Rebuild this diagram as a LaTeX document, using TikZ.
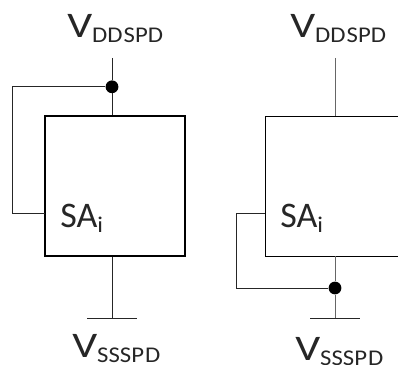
\documentclass[tikz,border=0pt]{standalone}
\usepackage{fontspec}
\setmainfont{Carlito}
\newfontfamily\widefont[FakeStretch=1.22]{Carlito}
\newfontfamily\subfont[FakeStretch=1.1]{Carlito}
\usetikzlibrary{positioning}

\newcommand{\subtxt}[1]{\raisebox{-0.125cm}{\subfont\fontsize{16pt}{16pt}\selectfont #1}}
\newcommand{\bigv}{{\widefont V}}

\tikzset{
  block/.style={draw=black, minimum width=3.5cm, minimum height=3.5cm, inner sep=0pt},
  wire/.style={draw=black!85, line width=0.5pt},
  graywire/.style={draw=black!60, line width=0.7pt},
  joint/.style={circle, fill=black, inner sep=0pt, minimum size=0.32cm},
  lbl/.style={anchor=base west, inner sep=0pt, text=black!85, font=\fontsize{25.6pt}{26pt}\selectfont}
}

\begin{document}
\begin{tikzpicture}
	\clip (0, 0) rectangle (9.95, -9.125);
	\useasboundingbox (0, 0) rectangle (9.95, -9.125);

	%partie gauche
	\node[block, line width=1pt] (boxL) at (2.875, -4.65) {};
	\node[joint] (dotL) at (2.8, -2.17) {};
	\coordinate (ddL) at (2.8, -1.45);
	\coordinate (ssL) at (2.8, -7.95);
	\coordinate (gndLa) at (2.175, -7.95);
	\coordinate (gndLb) at (3.425, -7.95);
	\coordinate (loopL) at (0.31, -5.34);
	\coordinate (portL) at (1.125, -5.34);

	\draw[wire] (ddL) -- (dotL);
	\draw[wire] (dotL) -- (dotL |- boxL.north);
	\draw[wire] (ssL |- boxL.south) -- (ssL);
	\draw[wire] (gndLa) -- (gndLb);
	\draw[wire] (dotL) -| (loopL) -- (portL);

	\node[lbl] (vddL) at (1.675, -0.95) {\bigv\subtxt{DD\kern0.8pt SPD}};
	\node[lbl] (saL) at (1.5, -5.68) {SA\subtxt{i}};
	\node[lbl] (vssL) at (1.8, -8.93) {\bigv\subtxt{SSSP\kern0.8pt D}};

	%partie droite
	\node[block, line width=0.7pt] (boxR) at (8.375, -4.65) {};
	\node[joint] (dotR) at (8.375, -7.2) {};
	\coordinate (ddR) at (8.375, -1.45);
	\coordinate (ssR) at (8.375, -7.95);
	\coordinate (gndRa) at (7.75, -7.95);
	\coordinate (gndRb) at (9.0, -7.95);
	\coordinate (loopR) at (5.91, -5.34);
	\coordinate (portR) at (6.625, -5.34);

	\draw[graywire] (ddR) -- (boxR.north);
	\draw[graywire] (boxR.south) -- (dotR);
	\draw[graywire] (dotR) -- (ssR);
	\draw[wire] (gndRa) -- (gndRb);
	\draw[wire] (dotR) -| (loopR) -- (portR);

	\node[lbl] (vddR) at (7.25, -0.95) {\bigv\subtxt{DD\kern0.8pt SPD}};
	\node[lbl] (saR) at (7.0, -5.7) {SA\subtxt{i}};
	\node[lbl] (vssR) at (7.375, -9.01) {\bigv\subtxt{SSSP\kern0.8pt D}};
\end{tikzpicture}
\end{document}
